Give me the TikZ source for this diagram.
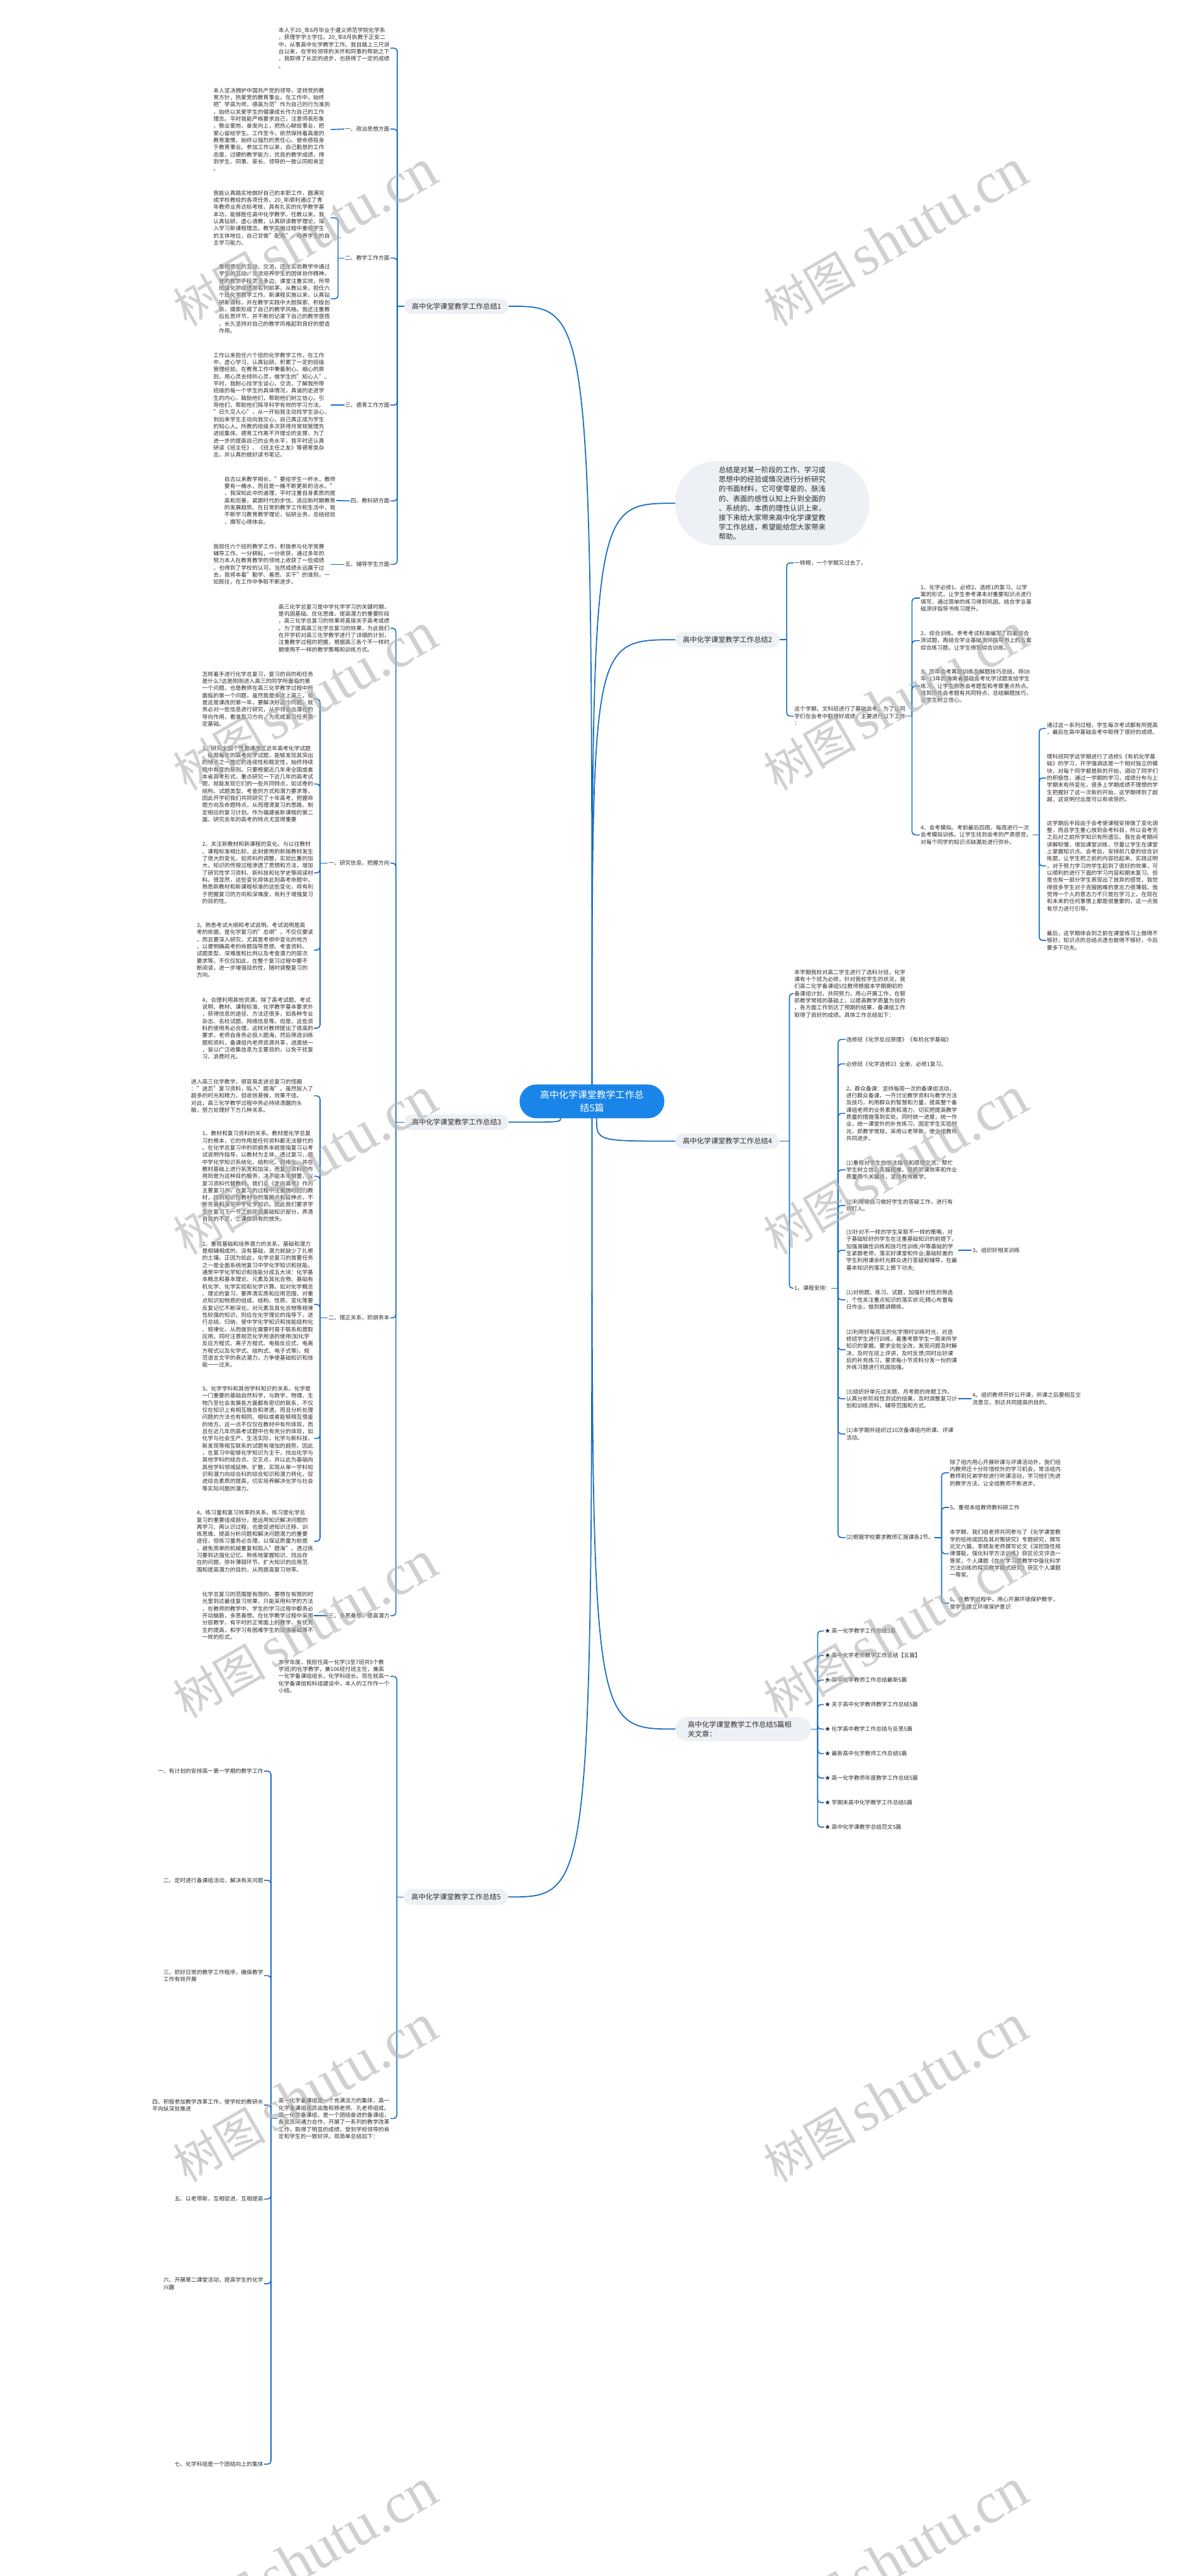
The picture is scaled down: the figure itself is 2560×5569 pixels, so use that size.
\documentclass[tikz,border=0pt]{standalone}
\usepackage{fontspec}
\setmainfont{Noto Sans CJK SC}
\newfontfamily\wmserif{Liberation Serif}
\definecolor{lc}{RGB}{22,108,198}
\definecolor{cfill}{RGB}{26,133,232}
\definecolor{pill}{RGB}{237,240,244}
\definecolor{txt}{RGB}{45,45,45}
\begin{document}
\begin{tikzpicture}[x=1pt,y=-1pt,
  leaf/.style={font=\fontsize{12}{15.4}\selectfont,text=txt,align=left,inner sep=1.5pt},
  lefttxt/.style={leaf,anchor=east},
  righttxt/.style={leaf,anchor=west},
  lbl/.style={font=\fontsize{15.4}{20}\selectfont,text=txt,fill=pill,rounded corners=17pt,inner xsep=16pt,inner ysep=0pt,minimum height=34pt},
  conn/.style={draw=lc,line width=2.4pt},
  brk/.style={draw=lc,line width=2.2pt,rounded corners=7pt},
  wm/.style={rotate=30,text=gray!60,text opacity=0.6,inner sep=0pt}]
\fill[white] (0,0) rectangle (2560,5569);
\useasboundingbox (0,0) rectangle (2560,5569);

% ---------- centre ----------
\node[fill=cfill,text=white,rounded corners=36pt,minimum width=313pt,minimum height=73pt,align=center,font=\fontsize{20.4}{28}\selectfont] (c) at (1280,2381) {高中化学课堂教学工作总\\结5篇};

% ---------- intro ----------
\node[fill=pill,rounded corners=88pt,inner xsep=94pt,inner ysep=12pt,align=left,text=txt,font=\fontsize{15.4}{20.6}\selectfont,anchor=west] (intro) at (1460,1088) {总结是对某一阶段的工作、学习或\\思想中的经验或情况进行分析研究\\的书面材料，它可使零星的、肤浅\\的、表面的感性认知上升到全面的\\、系统的、本质的理性认识上来，\\接下来给大家带来高中化学课堂教\\学工作总结，希望能给您大家带来\\帮助。};

% ---------- branch labels ----------
\node[lbl,anchor=east] (b1) at (1100,662) {高中化学课堂教学工作总结1};
\node[lbl,anchor=west] (b2) at (1460,1383) {高中化学课堂教学工作总结2};
\node[lbl,anchor=east] (b3) at (1100,2426) {高中化学课堂教学工作总结3};
\node[lbl,anchor=west] (b4) at (1460,2467) {高中化学课堂教学工作总结4};
\node[lbl,anchor=east] (b5) at (1099,4101) {高中化学课堂教学工作总结5};
\node[lbl,anchor=west,align=left,text width=240pt,inner xsep=27pt,inner ysep=9pt,rounded corners=27pt] (rel) at (1460,3738) {高中化学课堂教学工作总结5篇相\\关文章：};

% ---------- centre connectors ----------
\coordinate (c3) at ([xshift=-68pt]c.south);
\coordinate (c4) at ([xshift=10pt]c.south);
\draw[conn] (c.north) .. controls (c.north |- b1.east) .. (b1.east);
\draw[conn] (c.north) .. controls (c.north |- intro.west) .. (intro.west);
\draw[conn] (c.north) .. controls (c.north |- b2.west) .. (b2.west);
\draw[conn] (c3) .. controls (c3 |- b3.east) .. (b3.east);
\draw[conn] (c4) .. controls (c4 |- b4.west) .. (b4.west);
\draw[conn] (c.south) .. controls (c.south |- rel.west) .. (rel.west);
\draw[conn] (c.south) .. controls (c.south |- b5.east) .. (b5.east);

% ================= branch 1 =================
\node[lefttxt] (b1a) at (844,104) {本人于20\_年6月毕业于遵义师范学院化学系\\，获理学学士学位。20\_年8月执教于正安二\\中，从事高中化学教学工作。我自踏上三尺讲\\台以来，在学校领导的关怀和同事的帮助之下\\，我取得了长足的进步，也获得了一定的成绩\\。};
\node[lefttxt] (b1b) at (844,279) {一、政治思想方面};
\node[lefttxt] (b1bp) at (715,280) {本人坚决拥护中国共产党的领导，坚持党的教\\育方针，热爱党的教育事业。在工作中，始终\\把"学高为师，德高为范"作为自己的行为准则\\，始终以关爱学生的健康成长作为自己的工作\\理念。平时我能严格要求自己，注意师表形象\\，敬业爱岗，奋发向上，把热心献给事业，把\\爱心留给学生。工作至今，依然保持着高度的\\教育激情，始终以强烈的责任心、使命感投身\\于教育事业。参加工作以来，自己勤恳的工作\\态度，过硬的教学能力，优良的教学成绩，得\\到学生、同事、家长、领导的一致认同和肯定\\。};
\node[lefttxt] (b1c) at (844,558) {二、教学工作方面};
\node[lefttxt] (b1c1) at (715,471) {我能认真踏实地做好自己的本职工作，圆满完\\成学校教给的各项任务。20\_年顺利通过了青\\年教师业务达标考核，具有扎实的化学教学基\\本功，能够胜任高中化学教学。任教以来，我\\认真钻研，虚心请教，认真研读教学理论，深\\入学习新课程理念。教学实施过程中重视学生\\的主体地位，自己甘做"配角"，培养学生的自\\主学习能力。};
\node[lefttxt] (b1c2) at (715,646) {重视师生的互动、交流，还在实验教学中通过\\学生的互动、交流培养学生的团体协作精神。\\我的教学手段灵活多边，课堂注重实效，所带\\班级化学成绩常名列前茅。从教以来，担任六\\个班化学教学工作。新课程实施以来，认真钻\\研新课标，并在教学实践中大胆探索、积极创\\新，摸索形成了自己的教学风格。我还注重教\\后反思环节，并不断的记录下自己的教学感悟\\，长久坚持对自己的教学风格起到良好的塑造\\作用。};
\node[lefttxt] (b1d) at (844,876) {三、德育工作方面};
\node[lefttxt] (b1dp) at (715,876) {工作以来担任六个班的化学教学工作，在工作\\中，虚心学习，认真钻研，积累了一定的班级\\管理经验。在教育工作中秉着耐心、细心的原\\则，用心灵去倾听心灵，做学生的"知心人"。\\平时，我耐心找学生谈心，交流，了解我所带\\班级的每一个学生的具体情况，真诚的走进学\\生的内心，鼓励他们，帮助他们树立信心，引\\导他们，帮助他们探寻科学有效的学习方法。\\"日久见人心"，从一开始我主动找学生谈心，\\到后来学生主动向我交心，自己真正成为学生\\的知心人。所教的班级多次获得月常规管理先\\进班集体。德育工作离不开理论的支撑，为了\\进一步的提高自己的业务水平，我平时还认真\\研读《班主任》、《班主任之友》等德育类杂\\志，并认真的做好读书笔记。};
\node[lefttxt] (b1e) at (844,1083) {四、教科研方面};
\node[lefttxt] (b1ep) at (727,1082) {自古以来教学相长，"要给学生一杯水，教师\\要有一桶水，而且是一桶不断更新的活水。"\\，我深知此中的道理，平时注重自身素质的提\\高和完善，紧跟时代的步伐，适应新时期教育\\的发展趋势。在日常的教学工作和生活中，我\\不断学习教育教学理论，钻研业务，总结经验\\，撰写心得体会。};
\node[lefttxt] (b1f) at (844,1220) {五、辅导学生方面};
\node[lefttxt] (b1fp) at (715,1220) {我担任六个班的教学工作，积极参与化学竞赛\\辅导工作。一分耕耘，一分收获，通过多年的\\努力本人在教育教学的领地上收获了一些成绩\\，也得到了学校的认可。当然成绩永远属于过\\去，我将本着"勤学、善思、实干"的准则，一\\如既往，在工作中争取不断进步。};

\coordinate (J1) at (859,662);
\draw[brk] (b1.west) -- (J1);
\foreach \k in {b1a,b1b,b1c,b1d,b1e,b1f} \draw[brk] (J1) |- (\k.east);
\draw[brk] (b1b.west) -- (b1bp.east);
\coordinate (J1c) at (731,558);
\draw[brk] (b1c.west) -- (J1c);
\foreach \k in {b1c1,b1c2} \draw[brk] (J1c) |- (\k.east);
\draw[brk] (b1d.west) -- (b1dp.east);
\draw[brk] (b1e.west) -- (b1ep.east);
\draw[brk] (b1f.west) -- (b1fp.east);

% ================= branch 2 =================
\node[righttxt] (b2a) at (1716,1217) {一转眼，一个学期又过去了。};
\node[righttxt] (b2b) at (1716,1548) {这个学期，文科班进行了基础会考，为了让同\\学们在会考中取得好成绩，主要进行以下工作\\：};
\node[righttxt] (b2b1) at (1989,1293) {1、化学必修1、必修2、选修1的复习。以学\\案的形式，让学生参考课本对重要知识点进行\\填写，通过简单的练习得到巩固。结合学业基\\础测评指导书练习提升。};
\node[righttxt] (b2b2) at (1989,1385) {2、综合训练。参考考试标准编写了四套综合\\测试题，再结合学业基础测评指导书上的五套\\综合练习题，让学生得到综合训练。};
\node[righttxt] (b2b3) at (1989,1483) {3、历年会考真题训练及解题技巧总结。将08\\年\textasciitilde 13年的海南省基础会考化学试题发给学生\\练习，让学生熟悉会考题型和考察重点热点。\\找到历年会考题有共同特点，总结解题技巧，\\让学生树立信心。};
\node[righttxt] (b2b4) at (1989,1805) {4、会考模拟。考前最后四周，每周进行一次\\会考模拟训练。让学生找到会考的严肃感觉，\\对每个同学的知识点缺漏处进行弥补。};
\node[righttxt] (b2b4a) at (2262,1575) {通过这一系列过程，学生每次考试都有所提高\\，最后在高中基础会考中取得了很好的成绩。};
\node[righttxt] (b2b4b) at (2262,1682) {理科班同学这学期进行了选修5《有机化学基\\础》的学习，开学强调这是一个相对独立的模\\块，对每个同学都是新的开始，调动了同学们\\的积极性，通过一学期的学习，成绩分布与上\\学期末有所变化，很多上学期成绩不理想的学\\生把握好了这一次新的开始，这学期得到了超\\越，这说明付出是可以有收获的。};
\node[righttxt] (b2b4c) at (2262,1872) {这学期后半段由于会考使课程安排做了变化调\\整，而且学生重心放到会考科目，所以会考完\\之后对之前所学知识有所遗忘。我在会考期间\\讲解较慢，增加课堂训练，尽量让学生在课堂\\上掌握知识点。会考后，安排前几章的综合训\\练题，让学生把之前的内容捡起来。实践证明\\，对于努力学习的学生起到了很好的效果，可\\以顺利的进行下面的学习内容和期末复习。但\\是也有一部分学生表现出了放弃的感觉，我觉\\得很多学生对于克服困难的意志力很薄弱，我\\觉得一个人的意志力不只是在学习上，在现在\\和未来的任何事情上都是很重要的，这一点我\\有尽力进行引导。};
\node[righttxt] (b2b4d) at (2262,2033) {最后，这学期体会到之前在课堂练习上做得不\\够好，知识点的总结点透也做得不够好，今后\\要多下功夫。};

\coordinate (J2) at (1701,1383);
\draw[brk] (b2.east) -- (J2);
\foreach \k in {b2a,b2b} \draw[brk] (J2) |- (\k.west);
\coordinate (J2b) at (1972,1548);
\draw[brk] (b2b.east) -- (J2b);
\foreach \k in {b2b1,b2b2,b2b3,b2b4} \draw[brk] (J2b) |- (\k.west);
\coordinate (J2c) at (2247,1805);
\draw[brk] (b2b4.east) -- (J2c);
\foreach \k in {b2b4a,b2b4b,b2b4c,b2b4d} \draw[brk] (J2c) |- (\k.west);

% ================= branch 4 =================
\node[righttxt] (b4a) at (1716,2148) {本学期我校对高二学生进行了选科分班，化学\\课有十个班为必修，针对我校学生的状况，我\\们高二化学备课组5位教师根据本学期期初的\\备课组计划，共同努力，用心开展工作，在狠\\抓教学常规的基础上，以提高教学质量为目的\\，各方面工作到达了预期的结果，备课组工作\\取得了良好的成绩。具体工作总结如下：};
\node[righttxt] (b4b) at (1716,2785) {1。课程安排：};
\node[righttxt] (b4b1) at (1828,2247) {选修班《化学反应原理》《有机化学基础》};
\node[righttxt] (b4b2) at (1828,2300) {必修班《化学选修2》全册、必修1复习。};
\node[righttxt] (b4b3) at (1828,2407) {2。群众备课：坚持每周一次的备课组活动，\\进行群众备课，一齐讨论教学资料与教学方法\\及技巧，利用群众的智慧和力量，提高整个备\\课组老师的业务素质和潜力，切实把提高教学\\质量的措施落到实处。同时统一进度，统一作\\业，统一课堂外的补充练习，固定学生实验时\\光，抓教学常规，采用以老带新，使全组教师\\共同进步。};
\node[righttxt] (b4b4) at (1828,2529) {(1)重视对学生的学法指导和感情交流，帮忙\\学生树立信心克服困难。狠抓听课效率和作业\\质量两个关键点，坚持有效教学。};
\node[righttxt] (b4b5) at (1828,2606) {(2)利用晚自习做好学生的答疑工作，进行有\\效盯人。};
\node[righttxt] (b4b6) at (1828,2703) {(3)针对不一样的学生采取不一样的策略，对\\于基础较好的学生在注重基础知识的前提下，\\加强准确性训练和技巧性训练;中等基础的学\\生紧跟老师，落实好课堂和作业;基础较差的\\学生利用课余时光群众进行答疑和辅导，在最\\基本知识的落实上狠下功夫;};
\node[righttxt] (b4b6x) at (2101,2703) {3。组织好相关训练};
\node[righttxt] (b4b7) at (1828,2810) {(1)对例题、练习、试题，加强针对性的筛选\\，个性关注重点知识的落实状况;精心布置每\\日作业，做到精讲精练。};
\node[righttxt] (b4b8) at (1828,2918) {(2)利用好每周五的化学限时训练时光，对选\\修班学生进行训练，着重考察学生一周来所学\\知识的掌握。要求全批全改，发现问题及时解\\决，及时在班上评讲，及时反馈;同时出好课\\后的补充练习，要求每小节资料分发一份的课\\外练习题进行巩固加强。};
\node[righttxt] (b4b9) at (1828,3024) {(3)组织好单元过关题，月考题的命题工作。\\认真分析阶段性测试的结果，及时调整复习计\\划和训练资料，辅导范围和方式。};
\node[righttxt] (b4b9x) at (2101,3024) {4。组织教师开好公开课，听课之后要相互交\\流意见，到达共同提高的目的。};
\node[righttxt] (b4b10) at (1828,3100) {(1)本学期共组织过10次备课组内听课、评课\\活动。};
\node[righttxt] (b4b11) at (1828,3324) {(2)根据学校要求教师汇报课各2节。};
\node[righttxt] (b4k1) at (2052,3184) {除了组内用心开展听课与评课活动外，我们组\\内教师还十分珍惜校外的学习机会，常派组内\\教师到兄弟学校进行听课活动，学习他们先进\\的教学方法，让全组教师不断进步。};
\node[righttxt] (b4k2) at (2052,3259) {5。重视本组教师教科研工作};
\node[righttxt] (b4k3) at (2052,3359) {本学期，我们组老师共同参与了《化学课堂教\\学的低效成因及其对策研究》专题研究，撰写\\论文六篇。李顺友老师撰写论文《深挖隐性规\\律潜能，强化科学方法训练》获区论文评选一\\等奖，个人课题《在化学习题教学中强化科学\\方法训练的探究教学模式研究》获区个人课题\\一等奖。};
\node[righttxt] (b4k4) at (2052,3466) {6。在教学过程中，用心开展环境保护教学，\\使学生建立环境保护意识};

\coordinate (J4) at (1707,2467);
\draw[brk] (b4.east) -- (J4);
\foreach \k in {b4a,b4b} \draw[brk] (J4) |- (\k.west);
\coordinate (J4b) at (1812,2785);
\draw[brk] (b4b.east) -- (J4b);
\foreach \k in {b4b1,b4b2,b4b3,b4b4,b4b5,b4b6,b4b7,b4b8,b4b9,b4b10,b4b11} \draw[brk] (J4b) |- (\k.west);
\draw[brk] (b4b6.east) -- (b4b6x.west);
\draw[brk] (b4b9.east) -- (b4b9x.west);
\coordinate (J4k) at (2036,3324);
\draw[brk] (b4b11.east) -- (J4k);
\foreach \k in {b4k1,b4k2,b4k3,b4k4} \draw[brk] (J4k) |- (\k.west);

% ================= related =================
\foreach \t [count=\i from 0] in {高一化学教学工作总结5篇,高中化学老师教学工作总结【五篇】,高中化学教师工作总结最新5篇,关于高中化学教师教学工作总结5篇,化学高中教学工作总结与反思5篇,最新高中化学教师工作总结5篇,高一化学教师年度教学工作总结5篇,学期末高中化学教学工作总结5篇,高中化学课教学总结范文5篇}
  \node[righttxt] (r\i) at (1782,3526+53*\i) {★ \t};
\coordinate (Jr) at (1768,3738);
\draw[brk] (rel.east) -- (Jr);
\foreach \i in {0,...,8} \draw[brk] (Jr) |- (r\i.west);

% ================= branch 3 =================
\node[lefttxt] (b3a) at (844,1358) {高三化学总复习是中学化学学习的关键时期，\\是巩固基础、优化思维、提高潜力的重要阶段\\，高三化学总复习的效果将直接关乎高考成绩\\。为了提高高三化学总复习的效果，为此我们\\在开学初对高三化学教学进行了详细的计划，\\注重教学过程的把握，根据高三各个不一样时\\期使用不一样的教学策略和训练方式。};
\node[lefttxt] (b3b) at (844,1866) {一、研究信息，把握方向};
\node[lefttxt] (b3b1) at (679,1511) {怎样着手进行化学总复习，复习的目的和任务\\是什么?这是刚刚进入高三的同学所面临的第\\一个问题，也是教师在高三化学教学过程中所\\面临的第一个问题，虽然我是多次上高三，但\\是这是课改的第一年，要解决好这个问题，就\\务必对一些信息进行研究，从中领会出潜在的\\导向作用，看准复习方向，为完成复习任务奠\\定基础。};
\node[lefttxt] (b3b2) at (679,1695) {1。研究全国个性是课改区近年高考化学试题\\。纵观每年的高考化学试题，能够发现其突出\\的特点之一是它的连续性和稳定性，始终持续\\稳中有变的原则。只要根据近几年来全国或者\\本省高考形式，重点研究一下近几年的高考试\\题，就能发现它们的一些共同特点，如试卷的\\结构、试题类型、考查的方式和潜力要求等，\\因此开学初我们共同研究了十年高考，把握命\\题方向及命题特点，从而理清复习的思路，制\\定相应的复习计划。作为福建省新课程的第二\\届，研究去年的高考的特点尤显得重要};
\node[lefttxt] (b3b3) at (679,1887) {2。关注新教材和新课程的变化。与以往教材\\、课程标准相比较，此刻使用的新版教材发生\\了很大的变化，如资料的调整，实验比重的加\\大，知识的传授过程渗透了思想和方法，增加\\了研究性学习资料、新科技和化学史等阅读材\\料。很显然，这些变化将体此刻高考命题中，\\熟悉新教材和新课程标准的这些变化，将有利\\于把握复习的方向和深难度，有利于增强复习\\的目的性。};
\node[lefttxt] (b3b4) at (679,2054) {3。熟悉考试大纲和考试说明。考试说明是高\\考的依据，是化学复习的"总纲"，不仅仅要读\\，而且要深入研究，尤其是考纲中变化的地方\\，以便明确高考的命题指导思想、考查资料、\\试题类型、深难度和比例以及考查潜力的层次\\要求等。不仅仅如此，在整个复习过程中要不\\断阅读，进一步增强目的性，随时调整复习的\\方向。};
\node[lefttxt] (b3b5) at (679,2223) {4。合理利用其他资源。除了高考试题、考试\\说明、教材、课程标准、化学教学基本要求外\\，获得信息的途径、方法还很多，如各种专业\\杂志、名校试题、网络信息等。但是，这些资\\料的使用务必合理，这样对教师提出了很高的\\要求，老师自身务必投入题海，然后筛选训练\\题和资料，备课组内老师资源共享，进度统一\\，皆以广泛收集信息为主要目的，以免干扰复\\习、浪费时光。};
\node[lefttxt] (b3c) at (844,2849) {二、摆正关系，抓纲务本};
\node[lefttxt] (b3c1) at (679,2369) {进入高三化学教学，很容易走进总复习的怪圈\\："迷恋"复习资料，陷入"题海"。虽然投入了\\超多的时光和精力，但收效甚微，效果不佳。\\对此，高三化学教学过程中务必持续清醒的头\\脑，努力处理好下方几种关系。};
\node[lefttxt] (b3c2) at (679,2543) {1。教材和复习资料的关系。教材是化学总复\\习的根本，它的作用是任何资料都无法替代的\\。在化学总复习中的抓纲务本就是指复习以考\\试说明作指导，以教材为主体，透过复习，使\\中学化学知识系统化、结构化、网络化，并在\\教材基础上进行拓宽和加深，而复习资料的作\\用则是为这种目的服务，决不能本末倒置，以\\复习资料代替教材。我们以《走向高考》作为\\主要复习书，在复习的过程中注重随时回归教\\材，找到知识在教材中的落脚点和延伸点，不\\断完善和深化中学化学知识。因此我们要求学\\生在复习下一节之前完成基础知识部分，弄清\\自我的不足，上课做到有的放矢。};
\node[lefttxt] (b3c3) at (679,2820) {2。重视基础和培养潜力的关系。基础和潜力\\是相辅相成的，没有基础，潜力就缺少了扎根\\的土壤。正因为如此，化学总复习的首要任务\\之一是全面系统地复习中学化学知识和技能。\\通常中学化学知识和技能分成五大块：化学基\\本概念和基本理论、元素及其化合物、基础有\\机化学、化学实验和化学计算。如对化学概念\\、理论的复习，要弄清实质和应用范围，对重\\点知识如物质的组成、结构、性质、变化等要\\反复记忆不断深化，对元素及其化合物等规律\\性较强的知识，则应在化学理论的指导下，进\\行总结、归纳，使中学化学知识和技能结构化\\、规律化，从而做到在需要时易于联系和提取\\应用。同时注意规范化学用语的使用(如化学\\反应方程式、离子方程式、电极反应式、电离\\方程式以及化学式、结构式、电子式等)，规\\范语言文字的表达潜力，力争使基础知识和技\\能一一过关。};
\node[lefttxt] (b3c4) at (679,3110) {3。化学学科和其他学科知识的关系。化学是\\一门重要的基础自然科学，与数学、物理、生\\物乃至社会发展各方面都有密切的联系，不仅\\仅在知识上有相互融合和渗透，而且分析处理\\问题的方法也有相同、相似或者能够相互借鉴\\的地方。这一点不仅仅在教材中有所体现，而\\且在近几年的高考试题中也有充分的体现，如\\化学与社会生产、生活实际，化学与新科技、\\新发现等相互联系的试题有增加的趋势。因此\\，在复习中能够化学知识为主干，找出化学与\\其他学科的结合点、交叉点，并以此为基础向\\其他学科领域延伸、扩散，实现从单一学科知\\识和潜力向综合科的综合知识和潜力转化，促\\进综合素质的提高，切实培养解决化学与社会\\等实际问题的潜力。};
\node[lefttxt] (b3c5) at (679,3332) {4。练习量和复习效率的关系。练习是化学总\\复习的重要组成部分，是运用知识解决问题的\\再学习、再认识过程，也是促进知识迁移、训\\练思维、提高分析问题和解决问题潜力的重要\\途径，但练习量务必合理，以保证质量为前提\\，避免简单的机械重复和陷入"题海"。透过练\\习要到达强化记忆、熟练地掌握知识、找出存\\在的问题、弥补薄弱环节、扩大知识的应用范\\围和提高潜力的目的，从而提高复习效率。};
\node[lefttxt] (b3d) at (844,3493) {三、多思善想，提高潜力};
\node[lefttxt] (b3dp) at (679,3493) {化学总复习的范围是有限的，要想在有限的时\\光里到达最佳复习效果，只能采用科学的方法\\，在教师的教学中、学生的学习过程中都务必\\开动脑筋，多思善想。在化学教学过程中采用\\分层教学，有平时的正常面上的教学，有优秀\\生的提高，和学习有困难学生的加强基础等不\\一样的形式。};

\coordinate (J3) at (856,2426);
\draw[brk] (b3.west) -- (J3);
\foreach \k in {b3a,b3b,b3c,b3d} \draw[brk] (J3) |- (\k.east);
\coordinate (J3b) at (692,1866);
\draw[brk] (b3b.west) -- (J3b);
\foreach \k in {b3b1,b3b2,b3b3,b3b4,b3b5} \draw[brk] (J3b) |- (\k.east);
\coordinate (J3c) at (692,2849);
\draw[brk] (b3c.west) -- (J3c);
\foreach \k in {b3c1,b3c2,b3c3,b3c4,b3c5} \draw[brk] (J3c) |- (\k.east);
\draw[brk] (b3d.west) -- (b3dp.east);

% ================= branch 5 =================
\node[lefttxt] (b5a) at (844,3624) {本学年度，我担任高一化学(3至7班共5个教\\学班)的化学教学，兼106班付班主任，兼高\\一化学备课组组长，化学科组长。现在就高一\\化学备课组和科组建设中，本人的工作作一个\\小结。};
\node[lefttxt] (b5b) at (844,4580) {高一化学备课组是一个充满活力的集体，高一\\化学备课组成员由詹和杨老师、孔老师组成。\\高一化学备课组，是一个团结奋进的备课组，\\各成员间通力合作，开展了一系列的教学改革\\工作，取得了明显的成绩，受到学校领导的肯\\定和学生的一致好评。现简单总结如下：};
\node[lefttxt] (b5i1) at (571,3829) {一、有计划的安排高一第一学期的教学工作};
\node[lefttxt] (b5i2) at (571,4065) {二、定时进行备课组活动，解决有关问题};
\node[lefttxt] (b5i3) at (571,4271) {三、抓好日常的教学工作程序，确保教学\\工作有效开展};
\node[lefttxt] (b5i4) at (571,4551) {四、积极参加教学改革工作，使学校的教研水\\平向纵深处推进};
\node[lefttxt] (b5i5) at (571,4754) {五、以老带新，互相促进，互相提高};
\node[lefttxt] (b5i6) at (571,4937) {六、开展第二课堂活动，提高学生的化学\\兴趣};
\node[lefttxt] (b5i7) at (571,5327) {七、化学科组是一个团结向上的集体};
\coordinate (J5) at (858,4101);
\draw[brk] (b5.west) -- (J5);
\foreach \k in {b5a,b5b} \draw[brk] (J5) |- (\k.east);
\coordinate (J5b) at (586,4580);
\draw[brk] (b5b.west) -- (J5b);
\foreach \k in {b5i1,b5i2,b5i3,b5i4,b5i5,b5i6,b5i7} \draw[brk] (J5b) |- (\k.east);

% ---------- watermark ----------
\foreach \yy in {515,1518,2521,3524,4527,5530} {
  \node[wm] (wl\yy) at (660,\yy) {{\fontsize{100}{100}\selectfont 树图}\hspace{15pt}{\wmserif\fontsize{125}{125}\selectfont shutu.cn}};
  \node[wm] (wr\yy) at (1937,\yy) {{\fontsize{100}{100}\selectfont 树图}\hspace{15pt}{\wmserif\fontsize{125}{125}\selectfont shutu.cn}};
}
\end{tikzpicture}
\end{document}
